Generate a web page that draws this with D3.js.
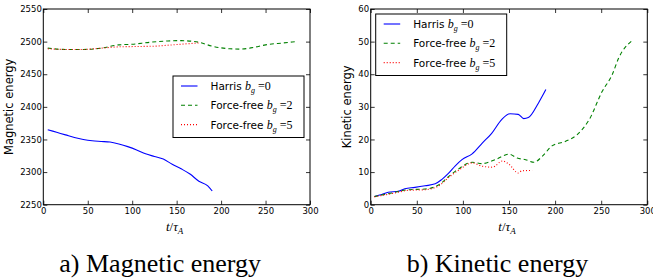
<!DOCTYPE html>
<html>
<head>
<meta charset="utf-8">
<script src="https://cdn.jsdelivr.net/npm/d3@7"></script>
<style>
  body { margin: 0; background: #fff; }
  svg { display: block; }
  .tick text { font-family: "DejaVu Sans", sans-serif; font-size: 8.5px; fill: #000; }
  .tick line { stroke: #000; stroke-width: 0.8; }
  .ylab { font-family: "DejaVu Sans", sans-serif; font-size: 11.5px; }
  .legend text { font-family: "DejaVu Sans", sans-serif; font-size: 10.5px; }
  .math { font-family: "Liberation Serif", serif; font-style: italic; }
  .caption { font-family: "Liberation Serif", "Times New Roman", serif; font-size: 26px; }
</style>
</head>
<body>
<svg id="fig" width="653" height="280"></svg>
<script>
// ---- data ----
var seriesNames = ["Harris", "Force-free", "Force-free"];
var bgValues = [0, 2, 5];

// magnetic energy
var magHarrisT = [5, 15, 25, 35, 45, 55, 65, 75, 85, 95, 105, 115, 125, 135, 145, 155, 165, 175, 185, 190];
var magHarris  = [2365, 2361, 2357, 2353, 2350, 2348, 2347, 2346, 2343, 2339, 2334, 2328, 2324, 2320, 2312, 2305, 2297, 2286, 2279, 2271];
var magFF2T = [5, 25, 45, 65, 85, 100, 120, 140, 155, 175, 190, 210, 222, 236, 250, 270, 284];
var magFF2  = [2490, 2488, 2488, 2490, 2495, 2496, 2499, 2501, 2501.5, 2499, 2493, 2489, 2488.5, 2491, 2495, 2498, 2500];
var magFF5T = [5, 25, 45, 65, 85, 105, 125, 145, 165, 175];
var magFF5  = [2489, 2488, 2488, 2490, 2492, 2492.5, 2493, 2495, 2497, 2498];

// kinetic energy
var kinHarrisT = [4, 12, 19, 30, 37, 48, 59, 70, 77, 84, 92, 99, 110, 121, 131, 142, 151, 160, 166, 171, 182, 190];
var kinHarris  = [2.5, 3.1, 3.8, 4.1, 4.9, 5.3, 5.8, 6.4, 7.7, 9.5, 12, 13.8, 15.6, 18.9, 21.8, 26.1, 27.9, 27.7, 26.4, 26.7, 31.2, 35.3];
var kinFF2T = [4, 23, 41, 59, 74, 84, 95, 110, 121, 135, 150, 159, 168, 177, 186, 197, 211, 224, 237, 251, 262, 269, 284];
var kinFF2  = [2.5, 3.6, 4.6, 4.8, 6.1, 8.5, 10.9, 13, 12.6, 13.8, 15.5, 14.3, 13.8, 13, 14.8, 18.1, 19.4, 21.5, 26.1, 34.7, 39.9, 45, 50.4];
var kinFF5T = [4, 23, 41, 59, 74, 84, 95, 110, 121, 132, 143, 150, 160, 164, 175];
var kinFF5  = [2.4, 3.4, 4.4, 4.6, 5.8, 8.2, 10.5, 12.8, 11.8, 11.5, 13.4, 12.4, 9.7, 10.4, 10.5];

var magTicks = [2250, 2300, 2350, 2400, 2450, 2500, 2550];
var kinTicks = [0, 10, 20, 30, 40, 50, 60];
var tTicks = [0, 50, 100, 150, 200, 250, 300];

var colors = ["#0000ff", "#008000", "#ff0000"];
var dashes = [null, "4,3", "1,2"];

var svg = d3.select("#fig");
var fmt = d3.format("d");

function zip(t, v) { return t.map(function(d, i) { return [d, v[i]]; }); }

function panel(opt) {
  var x = d3.scaleLinear().domain([0, 300]).range([opt.left, opt.right]);
  var y = d3.scaleLinear().domain(opt.ydomain).range([204.7, 9]);
  var g = svg.append("g");

  // lines
  var line = d3.line()
      .x(function(d) { return x(d[0]); })
      .y(function(d) { return y(d[1]); })
      .curve(d3.curveMonotoneX);
  opt.series.forEach(function(s, i) {
    g.append("path")
        .datum(s)
        .attr("fill", "none")
        .attr("stroke", colors[i])
        .attr("stroke-width", 1.1)
        .attr("stroke-dasharray", dashes[i])
        .attr("d", line);
  });

  // axes, ticks point inwards
  g.append("g")
      .attr("transform", "translate(0,204.7)")
      .call(d3.axisBottom(x).tickValues(tTicks).tickFormat(fmt).tickSize(-4).tickSizeOuter(0).tickPadding(3))
    .select(".domain").remove();
  g.append("g")
      .attr("transform", "translate(0,9)")
      .call(d3.axisTop(x).tickValues(tTicks).tickSize(-4).tickSizeOuter(0).tickFormat(""))
    .select(".domain").remove();
  g.append("g")
      .attr("transform", "translate(" + opt.left + ",0)")
      .call(d3.axisLeft(y).tickValues(opt.yticks).tickFormat(fmt).tickSize(-4).tickSizeOuter(0).tickPadding(1.5))
    .select(".domain").remove();
  g.append("g")
      .attr("transform", "translate(" + opt.right + ",0)")
      .call(d3.axisRight(y).tickValues(opt.yticks).tickSize(-4).tickSizeOuter(0).tickFormat(""))
    .select(".domain").remove();
  g.selectAll(".tick text").attr("font-family", null).attr("font-size", null);

  g.append("rect")
      .attr("x", opt.left).attr("y", 9)
      .attr("width", opt.right - opt.left).attr("height", 204.7 - 9)
      .attr("fill", "none").attr("stroke", "#000").attr("stroke-width", 1);

  // y label
  g.append("text")
      .attr("class", "ylab")
      .attr("transform", "translate(" + opt.ylabX + "," + ((9 + 204.7) / 2) + ") rotate(-90)")
      .attr("text-anchor", "middle")
      .text(opt.ylabel);

  // x label  t/tau_A
  var xl = g.append("text")
      .attr("class", "math")
      .attr("x", (opt.left + opt.right) / 2 - 2)
      .attr("y", 230.7)
      .attr("text-anchor", "middle")
      .attr("font-size", 13);
  xl.append("tspan").text("t");
  xl.append("tspan").attr("font-style", "normal").text("/");
  xl.append("tspan").text("τ");
  xl.append("tspan").attr("font-size", 9).attr("dy", 3).text("A");

  // legend
  var lg = g.append("g").attr("class", "legend")
      .attr("transform", "translate(" + opt.legX + "," + opt.legY + ")");
  lg.append("rect")
      .attr("width", 131).attr("height", 61.5)
      .attr("fill", "#fff").attr("stroke", "#000").attr("stroke-width", 1);
  seriesNames.forEach(function(name, i) {
    var yy = 10 + i * 19.3;
    lg.append("line")
        .attr("x1", 8).attr("x2", 24.5).attr("y1", yy).attr("y2", yy)
        .attr("stroke", colors[i]).attr("stroke-width", 1.1)
        .attr("stroke-dasharray", dashes[i]);
    var t = lg.append("text").attr("x", 37.5).attr("y", yy + 4);
    t.append("tspan").text(name + " ");
    t.append("tspan").attr("class", "math").attr("font-size", 12).text("b");
    t.append("tspan").attr("class", "math").attr("font-size", 8).attr("dy", 3).text("g");
    t.append("tspan").attr("font-family", "Liberation Serif, serif").attr("font-size", 12)
        .attr("dy", -3).text(" =" + bgValues[i]);
  });

  // caption
  svg.append("text")
      .attr("class", "caption")
      .attr("x", opt.capX).attr("y", 272)
      .text(opt.caption);
}

panel({
  left: 43.3, right: 310,
  ydomain: [2250, 2550], yticks: magTicks,
  series: [zip(magHarrisT, magHarris), zip(magFF2T, magFF2), zip(magFF5T, magFF5)],
  ylabel: "Magnetic energy", ylabX: 13,
  legX: 173, legY: 76,
  caption: "a) Magnetic energy", capX: 59.3
});

panel({
  left: 370.7, right: 647.3,
  ydomain: [0, 60], yticks: kinTicks,
  series: [zip(kinHarrisT, kinHarris), zip(kinFF2T, kinFF2), zip(kinFF5T, kinFF5)],
  ylabel: "Kinetic energy", ylabX: 351,
  legX: 375.7, legY: 14,
  caption: "b) Kinetic energy", capX: 406.7
});
</script>
</body>
</html>
